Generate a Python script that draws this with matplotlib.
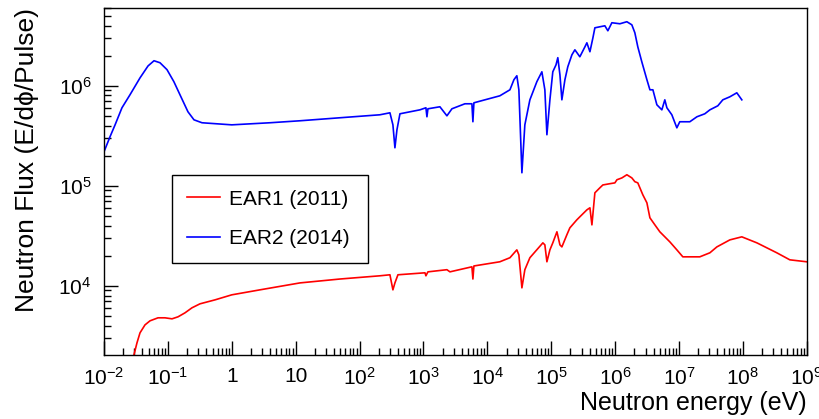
import matplotlib
matplotlib.use("Agg")
import matplotlib.pyplot as plt
from matplotlib.ticker import FixedLocator, LogLocator, NullFormatter

plt.rcParams['font.family'] = ['Liberation Sans', 'DejaVu Sans']
plt.rcParams['mathtext.fontset'] = 'custom'
plt.rcParams['mathtext.rm'] = 'Liberation Sans'
plt.rcParams['mathtext.default'] = 'regular'

# EAR2 (2014) -- energy (eV), flux
ear2_e = [0.01, 0.0124, 0.0149, 0.0191, 0.0255, 0.0366, 0.0489, 0.0606, 0.0752, 0.0968,
          0.124, 0.160, 0.206, 0.256, 0.342, 1.0, 3.96, 11.7, 49.3, 208, 299, 333, 358, 385,
          429, 881, 1094, 1135, 1176, 1811, 2332, 2793, 4460, 5740, 5950, 6170, 9170,
          1.57e4, 2.26e4, 2.61e4, 2.90e4, 3.12e4, 3.48e4, 3.87e4, 4.64e4, 5.97e4, 7.15e4,
          7.96e4, 8.57e4, 9.55e4, 1.06e5, 1.19e5, 1.27e5, 1.37e5, 1.47e5, 1.64e5, 1.82e5,
          2.11e5, 2.35e5, 2.81e5, 3.37e5, 3.62e5, 4.04e5, 4.50e5, 4.83e5, 5.78e5, 6.92e5,
          7.71e5, 8.91e5, 1.19e6, 1.53e6, 1.83e6, 2.04e6, 2.27e6, 2.62e6, 3.15e6, 3.51e6,
          3.91e6, 4.51e6, 5.40e6, 6.01e6, 6.47e6, 7.74e6, 9.27e6, 1.03e7, 1.48e7, 1.91e7,
          2.54e7, 3.05e7, 4.06e7, 4.86e7, 6.26e7, 8.05e7, 9.64e7]
ear2_f = [2.19e5, 3.09e5, 4.07e5, 6.03e5, 8.13e5, 1.20e6, 1.58e6, 1.78e6, 1.70e6, 1.45e6,
          1.10e6, 7.76e5, 5.50e5, 4.57e5, 4.27e5, 4.07e5, 4.27e5, 4.47e5, 4.79e5, 5.13e5,
          5.37e5, 4.07e5, 2.40e5, 3.63e5, 5.25e5, 5.75e5, 6.03e5, 4.90e5, 5.89e5, 6.17e5,
          5.01e5, 5.89e5, 6.61e5, 6.61e5, 4.37e5, 6.76e5, 7.24e5, 7.94e5, 9.12e5, 1.15e6,
          1.26e6, 9.12e5, 1.35e5, 4.07e5, 7.24e5, 1.10e6, 1.38e6, 9.12e5, 3.24e5, 7.24e5,
          1.38e6, 1.62e6, 1.91e6, 1.29e6, 7.24e5, 1.15e6, 1.55e6, 2.04e6, 2.29e6, 1.95e6,
          2.45e6, 2.69e6, 2.19e6, 3.02e6, 3.80e6, 3.89e6, 3.98e6, 3.55e6, 4.27e6, 4.17e6,
          4.37e6, 4.07e6, 3.39e6, 2.45e6, 1.74e6, 1.15e6, 9.12e5, 9.12e5, 6.46e5, 5.75e5,
          7.24e5, 6.03e5, 5.13e5, 3.80e5, 4.37e5, 4.37e5, 4.90e5, 5.25e5, 5.75e5, 6.31e5,
          7.24e5, 7.76e5, 8.51e5, 7.24e5]

# EAR1 (2011)
ear1_e = [0.0294, 0.0328, 0.0366, 0.0438, 0.0525, 0.0700, 0.0899, 0.116, 0.144, 0.185,
          0.238, 0.318, 0.546, 1.0, 2.76, 11.7, 49.3, 208, 299, 333, 358, 399, 1057, 1094,
          1176, 2332, 2600, 5740, 5950, 6170, 1.57e4, 2.26e4, 2.90e4, 3.12e4, 3.48e4, 3.87e4,
          4.64e4, 7.41e4, 7.96e4, 8.57e4, 9.55e4, 1.06e5, 1.23e5, 1.37e5, 1.47e5, 1.76e5,
          1.96e5, 2.52e5, 2.81e5, 3.62e5, 4.04e5, 4.34e5, 4.83e5, 5.78e5, 6.44e5, 8.29e5,
          9.93e5, 1.07e6, 1.28e6, 1.53e6, 1.83e6, 2.04e6, 2.27e6, 2.72e6, 3.15e6, 3.51e6,
          4.20e6, 5.02e6, 7.21e6, 9.27e6, 1.15e7, 2.12e7, 3.05e7, 3.92e7, 6.26e7, 9.64e7,
          1.66e8, 3.40e8, 5.44e8, 1.0e9]
ear1_f = [2.04e3, 2.69e3, 3.39e3, 4.07e3, 4.47e3, 4.79e3, 4.79e3, 4.68e3, 4.90e3, 5.37e3,
          6.03e3, 6.61e3, 7.24e3, 8.13e3, 9.12e3, 1.07e4, 1.17e4, 1.26e4, 1.29e4, 9.12e3,
          1.07e4, 1.29e4, 1.35e4, 1.26e4, 1.38e4, 1.45e4, 1.38e4, 1.55e4, 1.17e4, 1.58e4,
          1.74e4, 1.91e4, 2.29e4, 2.04e4, 9.55e3, 1.45e4, 1.91e4, 2.69e4, 2.57e4, 1.74e4,
          2.29e4, 2.69e4, 3.47e4, 2.57e4, 2.45e4, 3.24e4, 3.80e4, 4.57e4, 4.90e4, 5.75e4,
          6.03e4, 4.07e4, 8.51e4, 9.55e4, 1.02e5, 1.05e5, 1.07e5, 1.15e5, 1.20e5, 1.29e5,
          1.20e5, 1.10e5, 1.07e5, 8.13e4, 6.76e4, 4.79e4, 4.07e4, 3.47e4, 2.75e4, 2.29e4,
          1.95e4, 1.95e4, 2.14e4, 2.45e4, 2.88e4, 3.09e4, 2.69e4, 2.14e4, 1.82e4, 1.74e4]

x_ticks = [1e-2, 1e-1, 1, 10, 1e2, 1e3, 1e4, 1e5, 1e6, 1e7, 1e8, 1e9]
x_labels = ['$10^{-2}$', '$10^{-1}$', '1', '10', '$10^{2}$', '$10^{3}$', '$10^{4}$',
            '$10^{5}$', '$10^{6}$', '$10^{7}$', '$10^{8}$', '$10^{9}$']
y_ticks = [1e4, 1e5, 1e6]
y_labels = ['$10^{4}$', '$10^{5}$', '$10^{6}$']

fig = plt.figure(figsize=(8.19, 4.19), dpi=100)
ax = fig.add_axes([0.127, 0.153, 0.858, 0.828])

ax.plot(ear1_e, ear1_f, color='#ff0000', lw=1.2, label='EAR1 (2011)')
ax.plot(ear2_e, ear2_f, color='#0000ff', lw=1.2, label='EAR2 (2014)')

ax.set_xscale('log')
ax.set_yscale('log')
ax.set_xlim(1e-2, 1e9)
ax.set_ylim(2.04e3, 6.0e6)

ax.xaxis.set_major_locator(FixedLocator(x_ticks))
ax.set_xticklabels(x_labels)
ax.xaxis.set_minor_locator(LogLocator(base=10, subs=range(2, 10), numticks=30))
ax.xaxis.set_minor_formatter(NullFormatter())
ax.yaxis.set_major_locator(FixedLocator(y_ticks))
ax.set_yticklabels(y_labels)
ax.yaxis.set_minor_locator(LogLocator(base=10, subs=range(2, 10), numticks=30))
ax.yaxis.set_minor_formatter(NullFormatter())

ax.tick_params(which='both', direction='in', top=False, right=False, labelsize=15,
               width=1, color='black')
ax.tick_params(which='major', length=10, pad=9)
ax.tick_params(which='minor', length=5)
for s in ax.spines.values():
    s.set_linewidth(1.0)

ax.set_xlabel('Neutron energy (eV)', fontsize=18, loc='right', labelpad=1)
ax.set_ylabel('Neutron Flux (E/dϕ/Pulse)', fontsize=19, loc='top', labelpad=14)

leg = ax.legend(loc='lower left', bbox_to_anchor=(0.097, 0.265, 0.279, 0.291),
                mode='expand', borderaxespad=0, fontsize=15, fancybox=False,
                edgecolor='black', framealpha=1, handlelength=1.6, handletextpad=0.45,
                labelspacing=1.0, borderpad=0.7)
leg.get_frame().set_linewidth(1.0)

fig.savefig('out.png', dpi=100)
